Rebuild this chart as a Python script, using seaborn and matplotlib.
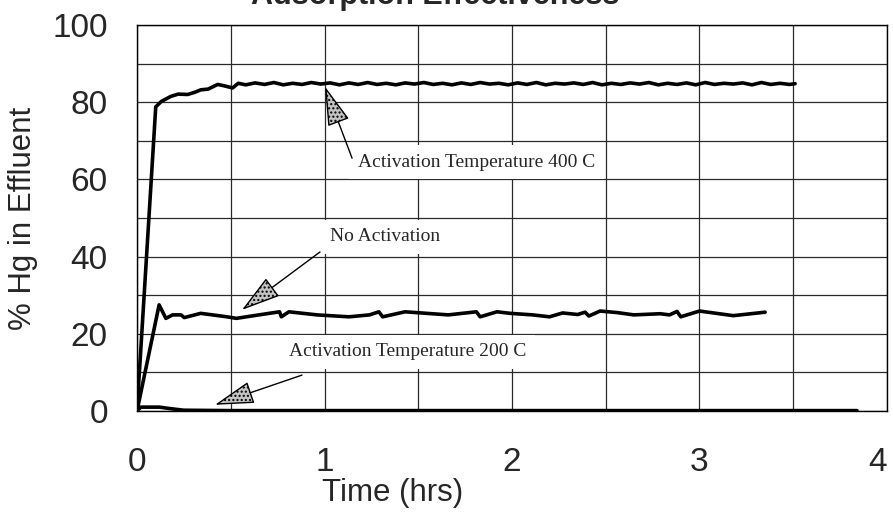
import numpy as np
import pandas as pd
import seaborn as sns
import matplotlib.pyplot as plt
from matplotlib.ticker import MultipleLocator

# ---------------- data ----------------
t_400 = [0, 0.10, 0.13, 0.18, 0.22, 0.27, 0.31, 0.34, 0.38, 0.43, 0.46, 0.51, 0.54,
         0.58, 0.63, 0.68, 0.73, 0.78, 0.83, 0.88, 0.93, 0.98, 1.03,
         1.08, 1.13, 1.18, 1.23, 1.28, 1.33, 1.38, 1.43, 1.48, 1.53,
         1.58, 1.63, 1.68, 1.73, 1.78, 1.83, 1.88, 1.93, 1.98, 2.03,
         2.08, 2.13, 2.18, 2.23, 2.28, 2.33, 2.38, 2.43, 2.48, 2.53,
         2.58, 2.63, 2.68, 2.73, 2.78, 2.83, 2.88, 2.93, 2.98, 3.03,
         3.08, 3.13, 3.18, 3.23, 3.28, 3.33, 3.38, 3.43, 3.48, 3.51]
hg_400 = [0, 78.8, 80.2, 81.5, 82.1, 82.0, 82.6, 83.2, 83.4, 84.6, 84.3, 83.7, 84.9,
          84.5, 85.0, 84.6, 85.1, 84.5, 84.9, 84.6, 85.1, 84.7, 85.0,
          84.5, 85.0, 84.6, 85.1, 84.6, 84.9, 84.5, 85.0, 84.7, 85.1,
          84.6, 84.9, 84.5, 85.0, 84.6, 85.1, 84.7, 84.9, 84.5, 85.0,
          84.6, 85.1, 84.5, 84.9, 84.7, 85.0, 84.6, 85.1, 84.5, 84.9,
          84.6, 85.0, 84.7, 85.1, 84.5, 84.9, 84.6, 85.0, 84.5, 85.1,
          84.6, 84.9, 84.7, 85.0, 84.5, 85.1, 84.6, 84.9, 84.6, 84.8]

t_none = [0, 0.118, 0.154, 0.19, 0.235, 0.252, 0.34, 0.48, 0.53, 0.65, 0.76, 0.77,
          0.81, 0.96, 1.13, 1.24, 1.29, 1.31, 1.43, 1.66, 1.81, 1.83, 1.92, 1.99,
          2.11, 2.20, 2.27, 2.35, 2.39, 2.41, 2.47, 2.56, 2.65, 2.79, 2.84, 2.88,
          2.90, 3.00, 3.18, 3.35]
hg_none = [0, 27.5, 24.0, 24.9, 24.9, 24.2, 25.3, 24.4, 24.0, 24.9, 25.7, 24.4,
           25.7, 24.9, 24.4, 24.9, 25.7, 24.4, 25.7, 24.9, 25.7, 24.4, 25.7, 25.3,
           24.9, 24.4, 25.4, 25.0, 25.6, 24.6, 25.9, 25.5, 24.9, 25.2, 24.9, 25.8,
           24.4, 25.9, 24.7, 25.6]

t_200 = [0, 0.02, 0.12, 0.18, 0.25, 0.5, 1.0, 2.0, 3.0, 3.84]
hg_200 = [0, 1.0, 1.0, 0.6, 0.2, 0.1, 0.1, 0.1, 0.1, 0.1]

x_ticks = [0, 1, 2, 3, 4]
y_ticks = [0, 20, 40, 60, 80, 100]

title = "Adsorption Effectiveness"
x_label = "Time (hrs)"
y_label = "% Hg in Effluent"
labels = ["Activation Temperature 400 C", "No Activation", "Activation Temperature 200 C"]
label_pos = [(1.179, 64.5), (1.029, 45.1), (0.811, 15.3)]
arrow_tips = [(1.003, 84.0), (0.56, 26.2), (0.416, 1.6)]
arrow_tails = [(1.147, 65.5), (0.976, 41.2), (0.88, 9.3)]

# ---------------- figure ----------------
sns.set_theme(style="white")
plt.rcParams['font.family'] = ['Liberation Sans', 'DejaVu Sans']

W, H = 893, 519
fig = plt.figure(figsize=(W / 100, H / 100), dpi=100)
ax = fig.add_axes([137 / W, 1 - 411 / H, 750 / W, 386 / H])

for tx, ty in [(t_400, hg_400), (t_none, hg_none), (t_200, hg_200)]:
    sns.lineplot(x=tx, y=ty, ax=ax, color="black", linewidth=2.6,
                 sort=False, estimator=None, zorder=3)

ax.set_xlim(0, 4)
ax.set_ylim(0, 100)
ax.set_xticks(x_ticks)
ax.set_yticks(y_ticks)
ax.xaxis.set_minor_locator(MultipleLocator(0.5))
ax.yaxis.set_minor_locator(MultipleLocator(10))
ax.set_axisbelow(True)
ax.grid(True, which="both", color="#2a2a2a", linewidth=0.9)

ax.tick_params(axis="both", which="both", direction="inout", length=8,
               width=0.9, color="black")
ax.tick_params(axis="y", which="major", labelsize=24, pad=17)
ax.tick_params(axis="x", which="major", labelsize=24, pad=22)
ax.get_xticklabels()[-1].set_horizontalalignment("right")
for s in ax.spines.values():
    s.set_color("black")
    s.set_linewidth(1.0)
    s.set_visible(True)

ax.set_xlabel(x_label, fontsize=22.5, va="center")
ax.xaxis.set_label_coords(0.341, -0.212)
ax.set_ylabel(y_label, fontsize=22.5, va="center")
ax.yaxis.set_label_coords(-0.152, 0.5)

for txt, (lx, ly) in zip(labels, label_pos):
    ax.text(lx, ly, txt, ha="left", va="center", fontsize=14,
            family=["Liberation Serif", "DejaVu Serif"], zorder=4,
            bbox=dict(facecolor="white", edgecolor="none",
                      boxstyle="square,pad=0.45"))

for tip, tail in zip(arrow_tips, arrow_tails):
    ax.annotate("", xy=tip, xytext=tail, zorder=5,
                arrowprops=dict(arrowstyle="-|>,head_length=1.25,head_width=0.36",
                                mutation_scale=20, facecolor="#c4c4c4",
                                edgecolor="black", linewidth=1.0,
                                hatch="....", shrinkA=0, shrinkB=0))

fig.text(435 / W, 1 - 4 / H, title, ha="center", va="baseline",
         fontsize=22, fontweight="bold")

fig.savefig("out.png", dpi=100, facecolor="white")
